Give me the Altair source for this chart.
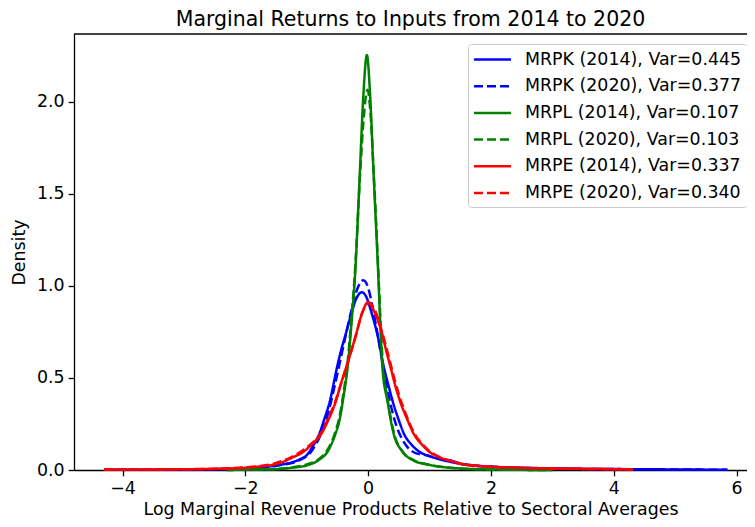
import altair as alt
import pandas as pd

labels = [
    "MRPK (2014), Var=0.445",
    "MRPK (2020), Var=0.377",
    "MRPL (2014), Var=0.107",
    "MRPL (2020), Var=0.103",
    "MRPE (2014), Var=0.337",
    "MRPE (2020), Var=0.340",
]
colors = ["#0000ff", "#0000ff", "#008000", "#008000", "#ff0000", "#ff0000"]
dashes = [[1, 0], [9, 4], [1, 0], [9, 4], [1, 0], [9, 4]]

# MRPK 2014
mrpk14_x = [-4.3, -3.5, -3.0, -2.5, -2.0, -1.6, -1.4, -1.21, -1.1, -0.99, -0.9, -0.8, -0.72, -0.624,
            -0.51, -0.44, -0.363, -0.28, -0.2, -0.1, -0.03, 0.05, 0.153, 0.26, 0.33, 0.4, 0.5, 0.59,
            0.7, 0.83, 1.0, 1.18, 1.4, 1.56, 2.0, 2.5, 3.0, 3.5, 4.0, 4.5, 5.0, 5.85]
mrpk14_d = [0.001, 0.002, 0.003, 0.005, 0.01, 0.02, 0.03, 0.045, 0.06, 0.084, 0.13, 0.192, 0.27, 0.373,
            0.552, 0.65, 0.74, 0.84, 0.925, 0.965, 0.94, 0.86, 0.732, 0.552, 0.46, 0.373, 0.27, 0.192,
            0.14, 0.1, 0.075, 0.057, 0.04, 0.03, 0.018, 0.012, 0.009, 0.006, 0.005, 0.004, 0.003, 0.001]

# MRPK 2020
mrpk20_x = [-4.3, -3.0, -2.5, -2.0, -1.6, -1.4, -1.2, -1.05, -0.95, -0.85, -0.75, -0.65, -0.55, -0.45,
            -0.36, -0.27, -0.18, -0.08, 0.0, 0.08, 0.153, 0.25, 0.35, 0.45, 0.55, 0.65, 0.75, 0.85,
            0.95, 1.05, 1.15, 1.25, 1.35, 1.5, 1.75, 2.0, 2.5, 3.0, 3.5, 4.0, 5.0, 5.85]
mrpk20_d = [0.001, 0.002, 0.004, 0.008, 0.018, 0.028, 0.042, 0.065, 0.09, 0.14, 0.21, 0.31, 0.45, 0.6,
            0.74, 0.87, 0.98, 1.03, 0.99, 0.87, 0.74, 0.55, 0.38, 0.25, 0.17, 0.12, 0.095, 0.085,
            0.08, 0.07, 0.065, 0.055, 0.05, 0.035, 0.025, 0.018, 0.011, 0.008, 0.006, 0.005, 0.003, 0.001]

# MRPL 2014
mrpl14_x = [-2.3, -2.0, -1.5, -1.25, -1.0, -0.8, -0.66, -0.55, -0.46, -0.4, -0.336, -0.27, -0.21,
            -0.135, -0.08, -0.02, 0.03, 0.088, 0.163, 0.2, 0.234, 0.315, 0.42, 0.56, 0.75, 0.97, 1.5, 2.0, 3.0]
mrpl14_d = [0.0, 0.002, 0.005, 0.012, 0.025, 0.055, 0.1, 0.18, 0.28, 0.4, 0.552, 0.8, 1.075,
            1.614, 2.02, 2.253, 2.05, 1.614, 1.075, 0.78, 0.552, 0.373, 0.192, 0.1, 0.05, 0.03, 0.008, 0.003, 0.0]

# MRPL 2020
mrpl20_x = [-2.3, -2.0, -1.5, -1.25, -1.0, -0.8, -0.66, -0.55, -0.46, -0.4, -0.336, -0.27, -0.21,
            -0.135, -0.07, -0.01, 0.04, 0.09, 0.163, 0.2, 0.234, 0.315, 0.42, 0.56, 0.75, 0.97, 1.5, 2.0, 3.0]
mrpl20_d = [0.0, 0.002, 0.006, 0.014, 0.03, 0.06, 0.11, 0.19, 0.3, 0.42, 0.58, 0.83, 1.1,
            1.58, 1.92, 2.065, 1.93, 1.62, 1.1, 0.82, 0.6, 0.39, 0.2, 0.1, 0.052, 0.03, 0.008, 0.003, 0.0]

# MRPE 2014
mrpe14_x = [-4.3, -3.5, -3.0, -2.5, -2.0, -1.75, -1.5, -1.42, -1.25, -1.05, -0.9, -0.77, -0.65, -0.526,
            -0.45, -0.363, -0.28, -0.2, -0.1, 0.0, 0.1, 0.234, 0.3, 0.37, 0.44, 0.52, 0.63, 0.75,
            0.87, 0.99, 1.15, 1.35, 1.56, 2.0, 2.65, 3.0, 3.5, 4.31]
mrpe14_d = [0.002, 0.003, 0.004, 0.006, 0.012, 0.02, 0.032, 0.04, 0.065, 0.1, 0.145, 0.192, 0.27, 0.373,
            0.46, 0.552, 0.64, 0.732, 0.85, 0.912, 0.86, 0.732, 0.64, 0.552, 0.46, 0.373, 0.28, 0.192,
            0.14, 0.1, 0.07, 0.049, 0.03, 0.018, 0.01, 0.008, 0.006, 0.003]

# MRPE 2020
mrpe20_x = [-4.3, -3.5, -3.0, -2.5, -2.0, -1.75, -1.5, -1.25, -1.05, -0.9, -0.77, -0.65, -0.526,
            -0.45, -0.363, -0.28, -0.2, -0.1, 0.02, 0.12, 0.234, 0.3, 0.37, 0.44, 0.52, 0.63, 0.75,
            0.87, 0.99, 1.15, 1.35, 1.56, 2.0, 2.65, 3.0, 3.5, 4.31]
mrpe20_d = [0.002, 0.003, 0.004, 0.007, 0.014, 0.022, 0.038, 0.07, 0.11, 0.15, 0.2, 0.28, 0.38,
            0.46, 0.55, 0.64, 0.73, 0.85, 0.905, 0.86, 0.74, 0.66, 0.57, 0.48, 0.39, 0.29, 0.2,
            0.145, 0.105, 0.072, 0.05, 0.032, 0.018, 0.01, 0.008, 0.006, 0.003]

series_x = [mrpk14_x, mrpk20_x, mrpl14_x, mrpl20_x, mrpe14_x, mrpe20_x]
series_d = [mrpk14_d, mrpk20_d, mrpl14_d, mrpl20_d, mrpe14_d, mrpe20_d]

rows = []
for i, (lab, xs, ds) in enumerate(zip(labels, series_x, series_d)):
    for j, (xv, dv) in enumerate(zip(xs, ds)):
        rows.append({"series": lab, "x": xv, "d": dv, "k": i, "j": j})
df = pd.DataFrame(rows)

x_ticks = [-4, -2, 0, 2, 4, 6]
y_ticks = [0.0, 0.5, 1.0, 1.5, 2.0]
x_domain = [-4.79, 6.17]
y_domain = [0, 2.367]

FONT = "DejaVu Sans"
FS = 17.4

xscale = alt.Scale(domain=x_domain, nice=False, zero=False)
yscale = alt.Scale(domain=y_domain, nice=False, zero=False)

lines = alt.Chart(df).mark_line(strokeWidth=2.5, interpolate="monotone").encode(
    x=alt.X("x:Q", scale=xscale,
            axis=alt.Axis(values=x_ticks, format="d",
                          title="Log Marginal Revenue Products Relative to Sectoral Averages")),
    y=alt.Y("d:Q", scale=yscale,
            axis=alt.Axis(values=y_ticks, format=".1f", title="Density")),
    color=alt.Color("series:N", scale=alt.Scale(domain=labels, range=colors),
                    legend=alt.Legend(title=None, orient="none", legendX=394, legendY=10)),
    strokeDash=alt.StrokeDash("series:N", scale=alt.Scale(domain=labels, range=dashes),
                              legend=alt.Legend(title=None, orient="none", legendX=394, legendY=10)),
    order=alt.Order("j:Q"),
)

top_spine = alt.Chart().mark_rule(color="#000000", strokeWidth=1.3).encode(
    y=alt.datum(y_domain[1], scale=yscale)
)

chart = alt.layer(lines, top_spine).properties(
    width=673,
    height=436,
    title=alt.TitleParams("Marginal Returns to Inputs from 2014 to 2020", fontSize=20.5,
                          font=FONT, fontWeight="normal", color="#000000", offset=3),
    autosize=alt.AutoSizeParams(type="none"),
    padding={"left": 66, "top": 26, "right": 0, "bottom": 49},
).configure_view(
    strokeWidth=0
).configure_axis(
    grid=False,
    domainColor="#000000", domainWidth=1.3,
    tickColor="#000000", tickWidth=1.3, tickSize=5.8,
    labelFont=FONT, labelFontSize=FS, labelColor="#000000", labelPadding=4,
    titleFont=FONT, titleFontSize=FS, titleFontWeight="normal", titleColor="#000000",
).configure_axisX(
    titlePadding=3
).configure_axisY(
    titlePadding=8
).configure_legend(
    fillColor="#ffffff", strokeColor="#cccccc", cornerRadius=3, padding=5,
    labelFont=FONT, labelFontSize=FS, labelColor="#000000", labelOffset=22, labelLimit=0,
    symbolType="M-2,0L2,0", symbolSize=342, symbolStrokeWidth=2.5, symbolOffset=9,
    rowPadding=7.7,
)

chart.save("out.html", embed_options={"renderer": "svg", "actions": False})
